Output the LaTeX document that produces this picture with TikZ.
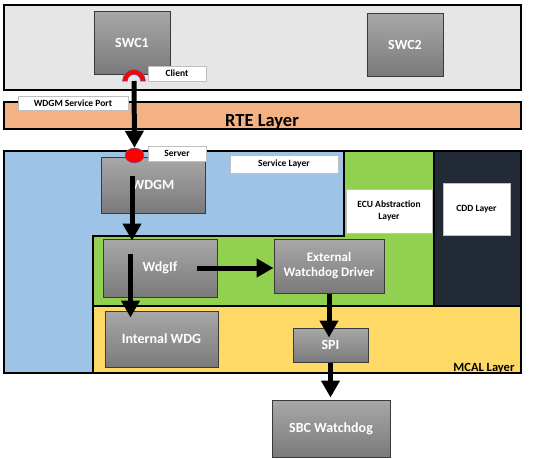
\documentclass[tikz,border=0pt]{standalone}
\usepackage{fontspec}
\setmainfont{Carlito}
\usetikzlibrary{arrows.meta,shapes.geometric,shadows,calc}
\definecolor{topgrey}{HTML}{E6E6E6}
\definecolor{rte}{HTML}{F4B183}
\definecolor{svc}{HTML}{9DC3E6}
\definecolor{ecu}{HTML}{92D050}
\definecolor{cdd}{HTML}{222A35}
\definecolor{mcal}{HTML}{FFD966}
\definecolor{boxtop}{HTML}{A8A8A8}
\definecolor{boxbot}{HTML}{7A7A7A}
\definecolor{boxedge}{HTML}{3A3A3A}
\definecolor{lbledge}{HTML}{BFBFBF}
\definecolor{portblue}{HTML}{4472C4}
\definecolor{portred}{HTML}{FF0000}
\tikzset{
  layerline/.style={line width=1.6pt, draw=black},
  modbox/.style={rectangle, draw=boxedge, line width=1pt, top color=boxtop, bottom color=boxbot,
    text=white, font=\bfseries\fontsize{14}{16}\selectfont, align=center, inner sep=0pt,
    drop shadow={shadow xshift=1pt, shadow yshift=-1.2pt, opacity=0.35}},
  lbl/.style={rectangle, draw=lbledge, line width=0.8pt, fill=white,
    font=\bfseries\fontsize{9.5}{11.5}\selectfont, align=center, inner sep=0pt},
  bigarrow/.style={line width=5pt, draw=black, -{Triangle[width=18pt,length=17pt]}},
  portshape/.style={fill=portred, draw=portblue, line width=0.5pt}
}
\begin{document}
\begin{tikzpicture}[x=1pt,y=-1pt]
\useasboundingbox (0,0) rectangle (535,458);
\fill[white] (0,0) rectangle (535,458);

% application layer
\draw[layerline, fill=topgrey] (4,5) rectangle (521,90);
% RTE
\draw[layerline, fill=rte] (4,102) rectangle (521,129);
\node[anchor=base, font=\bfseries\fontsize{18.5}{20}\selectfont] (rtetxt) at (262,126) {RTE Layer};

% basic software fills
\fill[svc] (4,151) -- (344,151) -- (344,236) -- (93,236) -- (93,373) -- (4,373) -- cycle;
\fill[ecu] (344,151) -- (434,151) -- (434,306) -- (93,306) -- (93,236) -- (344,236) -- cycle;
\fill[cdd] (434,151) rectangle (521,306);
\fill[mcal] (93,306) rectangle (521,373);
\draw[layerline] (344,151) -- (344,236) -- (93,236) -- (93,373);
\draw[layerline] (93,306) -- (521,306);
\draw[layerline] (434,151) -- (434,306);
\draw[layerline] (4,151) rectangle (521,373);

% modules
\node[modbox, minimum width=76pt, minimum height=63pt] (swc1) at (132,42.5) {SWC1};
\node[modbox, minimum width=76pt, minimum height=63pt] (swc2) at (405,44.5) {SWC2};
\node[modbox, minimum width=104pt, minimum height=56pt] (wdgm) at (153,185) {WDGM};
\node[modbox, minimum width=114pt, minimum height=58pt] (wdgif) at (160,268) {WdgIf};
\node[modbox, minimum width=110pt, minimum height=54pt, font=\bfseries\fontsize{13}{15}\selectfont] (ext) at (329,266) {External\\Watchdog Driver};
\node[modbox, minimum width=113pt, minimum height=56pt] (intwdg) at (161.5,339) {Internal WDG};
\node[modbox, minimum width=75pt, minimum height=34pt] (spi) at (330.5,345) {SPI};
\node[modbox, minimum width=118pt, minimum height=57pt] (sbc) at (331,428.5) {SBC Watchdog};

% labels
\node[lbl, minimum width=58pt, minimum height=15pt] (client) at (177,73.5) {Client};
\node[lbl, minimum width=110pt, minimum height=14pt] (svcport) at (73,103) {WDGM Service Port};
\node[lbl, minimum width=58pt, minimum height=15pt] (server) at (177,153.5) {Server};
\node[lbl, minimum width=108pt, minimum height=18pt] (svclayer) at (284,164) {Service Layer};
\node[lbl, minimum width=86pt, minimum height=44pt] (ecutxt) at (389,211) {ECU Abstraction\\Layer};
\node[lbl, minimum width=67pt, minimum height=52pt] (cddtxt) at (476.5,209) {CDD Layer};
\node[anchor=base east, font=\bfseries\fontsize{12.5}{14}\selectfont] (mcaltxt) at (518,371) {MCAL Layer};

% ports
\coordinate (cli) at (134,81);
\node[ellipse, portshape, minimum width=19pt, minimum height=15pt, inner sep=0pt] (srv) at (134.5,155.5) {};
\draw[portshape] ($(cli)+(-11.5,0)$) arc[start angle=180, end angle=0, radius=11.5pt]
  -- ($(cli)+(6.5,0)$) arc[start angle=0, end angle=180, radius=6.5pt] -- cycle;

% connectors
\coordinate (a2) at (132,176);
\coordinate (a3) at (197,268);
\coordinate (a4) at (130.5,254);
\draw[bigarrow] (cli) -- (srv.north);
\draw[bigarrow] (a2) -- ($(a2 |- wdgif.north)+(0,2)$);
\draw[bigarrow] (a3) -- (a3 -| ext.west);
\draw[bigarrow] (a4) -- ($(a4 |- intwdg.north)+(0,7)$);
\draw[bigarrow] (ext.south) -- ($(ext.south |- spi.north)+(0,10)$);
\draw[bigarrow] (spi.south) -- ($(spi.south |- sbc.north)+(0,-2)$);
\end{tikzpicture}
\end{document}
